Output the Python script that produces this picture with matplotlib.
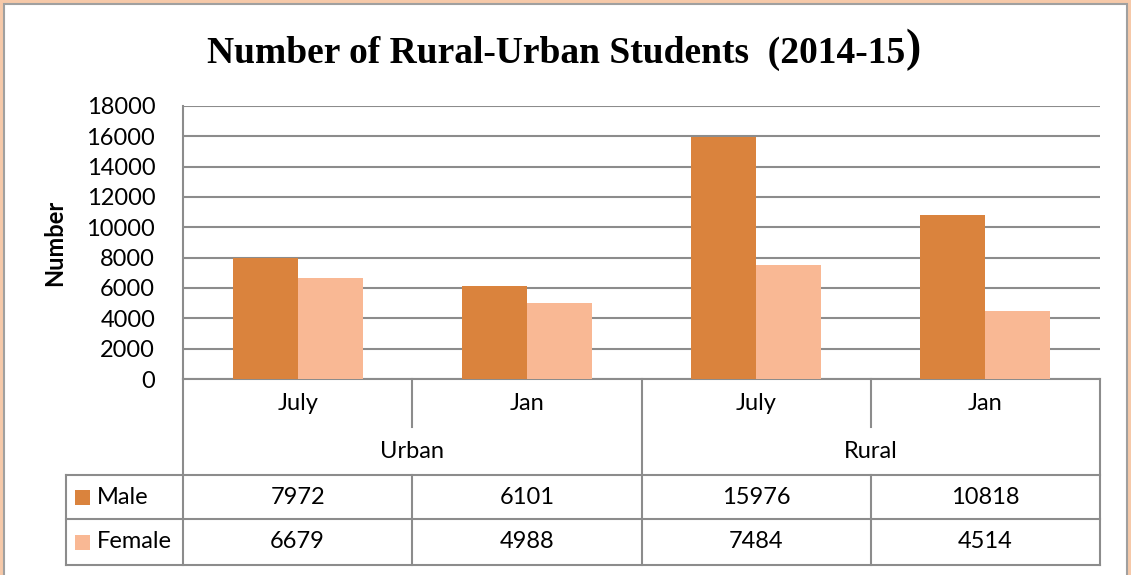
import matplotlib.pyplot as plt
import numpy as np
from matplotlib.patches import Rectangle

# data
months = ['July', 'Jan', 'July', 'Jan']
areas = ['Urban', 'Rural']
male = [7972, 6101, 15976, 10818]
female = [6679, 4988, 7484, 4514]
series_names = ['Male', 'Female']
colors = ['#DA833D', '#F9B894']
yticks = list(range(0, 18001, 2000))

W, H = 1131, 575
fs = 17
fig = plt.figure(figsize=(W / 100, H / 100), dpi=100)
fig.patch.set_facecolor('#F6C9A9')
plt.rcParams['font.family'] = ['Lato', 'DejaVu Sans']

# white chart area with gray border
fig.patches.append(Rectangle((4 / W, -0.01), 1123 / W, (571 + 0.01 * H) / H,
                             transform=fig.transFigure, facecolor='white',
                             edgecolor='#A0A0A0', lw=1.5, zorder=-5))

# plot area in pixel terms
L, R, T, B = 183, 1100, 106, 379
ax = fig.add_axes([L / W, 1 - B / H, (R - L) / W, (B - T) / H])
ax.set_facecolor('none')

x = np.arange(len(months))
bw = 0.284
ax.bar(x - bw / 2, male, bw, color=colors[0], zorder=3)
ax.bar(x + bw / 2, female, bw, color=colors[1], zorder=3)

ax.set_xlim(-0.5, len(months) - 0.5)
ax.set_ylim(0, 18000)
ax.set_yticks(yticks)
ax.set_yticklabels([str(v) for v in yticks], fontsize=fs)
ax.tick_params(axis='y', length=0, pad=20)
ax.set_xticks([])
ax.grid(axis='y', color='#8C8C8C', lw=1.5, zorder=1)
for s in ['top', 'right']:
    ax.spines[s].set_visible(False)
for s in ['left', 'bottom']:
    ax.spines[s].set_color('#8C8C8C')
    ax.spines[s].set_linewidth(1.5)

ax.set_ylabel('Number', fontsize=17, fontweight='bold')
ax.yaxis.set_label_coords(-(L - 66) / (R - L), 0.5)

fig.text(905 / W, 1 - 53 / H, 'Number of Rural-Urban Students  (2014-15',
         family='Liberation Serif', fontweight='bold', fontsize=27,
         ha='right', va='center')
fig.text(906 / W, 1 - 50 / H, ')', family='Liberation Serif', fontweight='bold',
         fontsize=33, ha='left', va='center')

# data table below the axis (x in data, y in axes fraction)
ph = B - T
def yf(py):
    return (B - py) / ph

line_kw = dict(color='#8C8C8C', lw=1.5, clip_on=False, transform=ax.get_xaxis_transform())
edges = np.arange(len(months) + 1) - 0.5
px_per_cat = (R - L) / len(months)
legend_left = -0.5 - (L - 66) / px_per_cat
y_month, y_area, y_male, y_female = yf(427), yf(475), yf(519), yf(565)

for i, e in enumerate(edges):
    if i % 2 == 0:
        ax.plot([e, e], [0, y_female], **line_kw)
    else:
        ax.plot([e, e], [0, y_month], **line_kw)
        ax.plot([e, e], [y_area, y_female], **line_kw)
for yy in [y_area, y_male, y_female]:
    ax.plot([legend_left, edges[-1]], [yy, yy], **line_kw)
ax.plot([legend_left, legend_left], [y_area, y_female], **line_kw)

tr = ax.get_xaxis_transform()
for i, m in enumerate(months):
    ax.text(x[i], (0 + y_month) / 2, m, transform=tr, ha='center', va='center', fontsize=fs)
for j, a in enumerate(areas):
    ax.text(2 * j + 0.5, (y_month + y_area) / 2, a, transform=tr, ha='center', va='center', fontsize=fs)
for vals, (y0, y1) in zip([male, female], [(y_area, y_male), (y_male, y_female)]):
    for i, v in enumerate(vals):
        ax.text(x[i], (y0 + y1) / 2, str(v), transform=tr, ha='center', va='center', fontsize=fs)

sq = 15 / px_per_cat
for name, c, (y0, y1) in zip(series_names, colors, [(y_area, y_male), (y_male, y_female)]):
    ym = (y0 + y1) / 2
    ax.add_patch(Rectangle((legend_left + 9 / px_per_cat, ym - 7.5 / ph), sq, 15 / ph,
                           transform=tr, facecolor=c, edgecolor='none', clip_on=False))
    ax.text(legend_left + 31 / px_per_cat, ym, name, transform=tr, ha='left', va='center', fontsize=fs)

fig.savefig('out.png', dpi=100, facecolor=fig.get_facecolor())
